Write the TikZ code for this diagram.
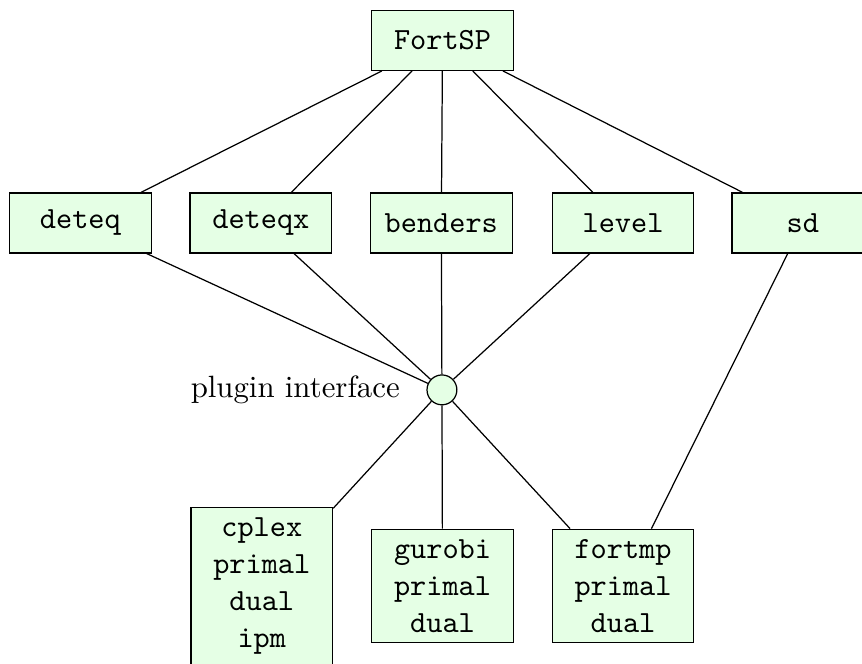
\documentclass[tikz,border=0pt]{standalone}
\begin{document}
\begin{tikzpicture}[
    box/.style={draw, fill=green!10, font=\ttfamily, align=center,
      minimum width=46pt, minimum height=19.5pt},
    plug/.style={draw, circle, fill=green!10, inner sep=0pt, minimum size=9.7pt}
  ]
      \useasboundingbox (0,0) rectangle (279.9pt,-215.6pt);
      \draw
        (143.7pt,-13.1pt) node[box] (fortsp){FortSP}
        (26.1pt,-72.4pt) node[box] (deteq){deteq}
        (84.7pt,-72.4pt) node[box] (deteqx){deteqx}
        (143.3pt,-72.4pt) node[box] (benders){benders}
        (202.3pt,-72.4pt) node[box] (level){level}
        (260.7pt,-72.4pt) node[box] (sd){sd}
        (143.5pt,-126.6pt) node[plug] (plugin){}
        (133.3pt,-126.6pt) node[anchor=east] (pluginlabel){plugin interface}
        (85pt,-190.3pt) node[box] (cplex){cplex\\primal\\dual\\ipm}
        (143.7pt,-190.3pt) node[box] (gurobi){gurobi\\primal\\dual}
        (202.3pt,-190.3pt) node[box] (fortmp){fortmp\\primal\\dual};
      \begin{scope}[-]
        \draw (fortsp) to (deteq);
        \draw (fortsp) to (deteqx);
        \draw (fortsp) to (benders);
        \draw (fortsp) to (level);
        \draw (fortsp) to (sd);
        \draw (deteq) to (plugin);
        \draw (deteqx) to (plugin);
        \draw (benders) to (plugin);
        \draw (level) to (plugin);
        \draw (plugin) to (cplex);
        \draw (plugin) to (gurobi);
        \draw (plugin) to (fortmp);
        \draw (sd) to (fortmp);
      \end{scope}
    \end{tikzpicture}
\end{document}
